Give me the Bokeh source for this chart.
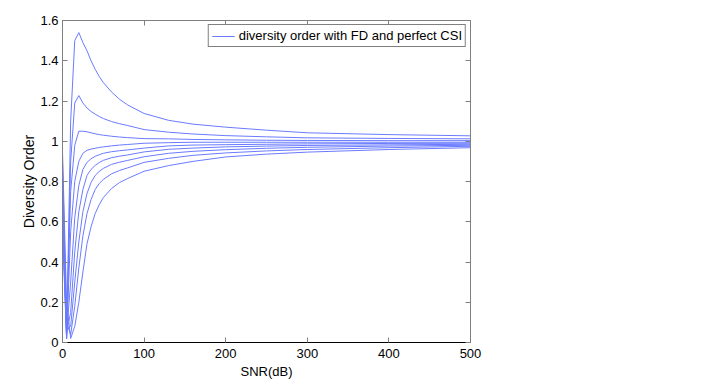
from bokeh.plotting import figure
from bokeh.models import ColumnDataSource, FixedTicker, LinearAxis, Range1d, Legend
from bokeh.embed import file_html
from bokeh.resources import INLINE

# ---- data ----
snr = [0, 5, 10, 15, 20, 25, 30, 35, 40, 45, 50, 60, 70, 80, 100, 130, 160, 200, 250, 300, 400, 500]

c1 = [0.55, 0.02, 1.10, 1.50, 1.54, 1.49, 1.45, 1.40, 1.358, 1.322, 1.292, 1.245, 1.208, 1.180, 1.138, 1.104, 1.085, 1.070, 1.055, 1.042, 1.033, 1.027]
c2 = [0.60, 0.02, 0.90, 1.19, 1.227, 1.19, 1.165, 1.148, 1.135, 1.123, 1.113, 1.098, 1.087, 1.078, 1.058, 1.045, 1.036, 1.028, 1.022, 1.017, 1.014, 1.012]
c3 = [0.65, 0.02, 0.75, 0.98, 1.05, 1.05, 1.047, 1.042, 1.037, 1.033, 1.030, 1.025, 1.021, 1.018, 1.013, 1.012, 1.009, 1.007, 1.005, 1.004, 1.003, 1.003]
c4 = [0.70, 0.03, 0.55, 0.80, 0.90, 0.94, 0.955, 0.961, 0.965, 0.969, 0.972, 0.977, 0.981, 0.984, 0.990, 0.993, 0.995, 0.995, 0.995, 0.995, 0.995, 0.995]
c5 = [0.75, 0.04, 0.30, 0.62, 0.78, 0.86, 0.895, 0.913, 0.925, 0.933, 0.940, 0.948, 0.953, 0.957, 0.966, 0.977, 0.981, 0.983, 0.985, 0.987, 0.989, 0.990]
c6 = [0.80, 0.05, 0.15, 0.45, 0.65, 0.76, 0.83, 0.86, 0.88, 0.894, 0.905, 0.918, 0.926, 0.932, 0.947, 0.960, 0.966, 0.972, 0.976, 0.979, 0.982, 0.985]
c7 = [0.85, 0.06, 0.08, 0.30, 0.50, 0.65, 0.74, 0.795, 0.83, 0.85, 0.865, 0.885, 0.896, 0.905, 0.923, 0.940, 0.950, 0.958, 0.965, 0.970, 0.976, 0.980]
c8 = [0.90, 0.10, 0.04, 0.18, 0.37, 0.53, 0.64, 0.71, 0.76, 0.79, 0.81, 0.838, 0.855, 0.868, 0.895, 0.915, 0.930, 0.942, 0.952, 0.959, 0.968, 0.975]
c9 = [0.95, 0.20, 0.02, 0.08, 0.20, 0.35, 0.49, 0.575, 0.64, 0.685, 0.72, 0.765, 0.795, 0.815, 0.851, 0.879, 0.900, 0.922, 0.936, 0.946, 0.959, 0.968]

curves = [c1, c2, c3, c4, c5, c6, c7, c8, c9]

x_ticks = [0, 100, 200, 300, 400, 500]
x_tick_labels = ["0", "100", "200", "300", "400", "500"]
y_ticks = [0, 0.2, 0.4, 0.6, 0.8, 1.0, 1.2, 1.4, 1.6]
y_tick_labels = ["0", "0.2", "0.4", "0.6", "0.8", "1", "1.2", "1.4", "1.6"]

legend_text = "diversity order with FD and perfect CSI"

# ---- figure ----
FONT = "Liberation Sans"
GREY = "#808080"
LINE = "#6a7bff"

W, H = 712, 388
p = figure(width=W, height=H, output_backend="svg", toolbar_location=None,
           x_range=Range1d(0, 500), y_range=Range1d(0, 1.6),
           min_border_left=62, min_border_right=W - 470, min_border_top=20, min_border_bottom=H - 342,
           x_axis_label="SNR(dB)", y_axis_label="Diversity Order")
p.grid.visible = False
p.outline_line_color = GREY
p.background_fill_color = "white"
p.border_fill_color = "white"

src = ColumnDataSource(dict(xs=[snr] * len(curves), ys=curves))
r = p.multi_line(xs="xs", ys="ys", source=src, line_color=LINE, line_width=1)

# main axes
xa = p.xaxis[0]
xa.ticker = FixedTicker(ticks=x_ticks)
xa.major_label_overrides = {t: l for t, l in zip(x_ticks, x_tick_labels)}
ya = p.yaxis[0]
ya.ticker = FixedTicker(ticks=y_ticks)
ya.major_label_overrides = {t: l for t, l in zip(y_ticks, y_tick_labels)}

for ax in (xa, ya):
    ax.major_tick_in = 5
    ax.major_tick_out = 0
    ax.minor_tick_line_color = None
    ax.major_label_text_font = FONT
    ax.major_label_text_font_size = "13px"
    ax.major_label_text_color = "black"
    ax.axis_label_text_font = FONT
    ax.axis_label_text_font_style = "normal"
    ax.axis_label_text_color = "black"
    ax.major_tick_line_color = GREY

xa.axis_label_text_font_size = "13px"
ya.axis_label_text_font_size = "14px"
xa.axis_line_color = "black"
xa.major_label_standoff = 6
xa.axis_label_standoff = 3
ya.axis_line_color = GREY
ya.major_label_standoff = 4
ya.axis_label_standoff = 0

# mirrored tick axes (top / right), labels not drawn
top = LinearAxis(ticker=FixedTicker(ticks=x_ticks), major_tick_in=5, major_tick_out=0,
                 minor_tick_line_color=None, axis_line_color=GREY, major_tick_line_color=GREY,
                 major_label_text_color=None, major_label_text_font_size="1px", major_label_standoff=0)
right = LinearAxis(ticker=FixedTicker(ticks=y_ticks), major_tick_in=5, major_tick_out=0,
                   minor_tick_line_color=None, axis_line_color=GREY, major_tick_line_color=GREY,
                   major_label_text_color=None, major_label_text_font_size="1px", major_label_standoff=0)
p.add_layout(top, "above")
p.add_layout(right, "right")

legend = Legend(items=[(legend_text, [r])], location="top_right",
                margin=4, padding=3, spacing=0,
                glyph_width=23, glyph_height=12, label_height=12, label_standoff=4,
                label_text_font=FONT, label_text_font_size="13px", label_text_color="black",
                border_line_color="black", border_line_width=1,
                background_fill_color="white", background_fill_alpha=1.0)
p.add_layout(legend)

open("out.html", "w").write(file_html(p, INLINE))
